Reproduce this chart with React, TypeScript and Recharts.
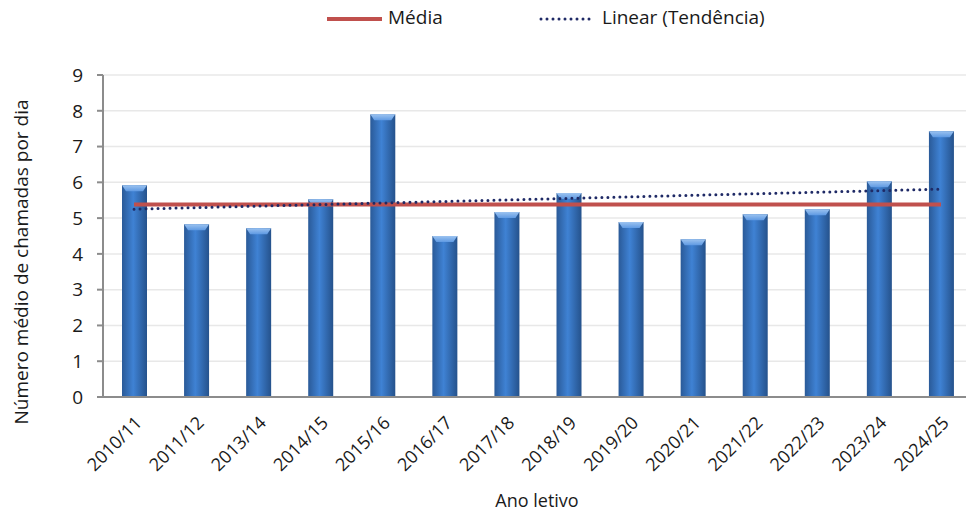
import React from "react";
import {
  ComposedChart,
  Bar,
  Line,
  XAxis,
  YAxis,
  CartesianGrid,
  Legend,
  Label,
} from "recharts";

const anos = [
  "2010/11",
  "2011/12",
  "2013/14",
  "2014/15",
  "2015/16",
  "2016/17",
  "2017/18",
  "2018/19",
  "2019/20",
  "2020/21",
  "2021/22",
  "2022/23",
  "2023/24",
  "2024/25",
];

const chamadas = [5.92, 4.83, 4.72, 5.53, 7.9, 4.5, 5.17, 5.7, 4.89, 4.41, 5.11, 5.25, 6.03, 7.43];

// média (linha horizontal) e tendência linear: só as pontas
const media = [5.38, null, null, null, null, null, null, null, null, null, null, null, null, 5.38];
const tendencia = [5.25, null, null, null, null, null, null, null, null, null, null, null, null, 5.81];

const yTicks = [0, 1, 2, 3, 4, 5, 6, 7, 8, 9];

const data = anos.map((ano, i) => ({
  ano,
  chamadas: chamadas[i],
  media: media[i],
  tendencia: tendencia[i],
}));

const FONT = "'Open Sans', sans-serif";
const AXIS_GREY = "#8c8c8c";

const BarShape = (props: any) => {
  const { x, y, width, height } = props;
  if (!height || height <= 0) return null;
  const bevel = 6;
  return (
    <g>
      <rect x={x} y={y} width={width} height={height} fill="url(#barGrad)" />
      <polygon
        points={`${x},${y} ${x + width},${y} ${x + width - 4},${y + bevel} ${x + 4},${y + bevel}`}
        fill="url(#bevelGrad)"
      />
    </g>
  );
};

const XTick = (props: any) => {
  const { x, y, payload } = props;
  const tx = x + 9;
  const ty = y + 19;
  return (
    <text
      x={tx}
      y={ty}
      transform={`rotate(-45, ${tx}, ${ty})`}
      textAnchor="end"
      fontFamily={FONT}
      fontSize={18}
      fill="#1a1a1a"
    >
      {payload.value}
    </text>
  );
};

const LegendBox = () => (
  <div
    style={{
      position: "relative",
      height: 40,
      fontFamily: FONT,
      fontSize: 19,
      color: "#1a1a1a",
    }}
  >
    <svg width={60} height={10} style={{ position: "absolute", left: 326, top: 14 }}>
      <line x1={1} y1={5} x2={56} y2={5} stroke="#c0504d" strokeWidth={4} />
    </svg>
    <span style={{ position: "absolute", left: 388, top: 4 }}>Média</span>
    <svg width={60} height={10} style={{ position: "absolute", left: 538, top: 14 }}>
      <line
        x1={3}
        y1={5}
        x2={55}
        y2={5}
        stroke="#1f2a66"
        strokeWidth={3}
        strokeDasharray="0 6"
        strokeLinecap="round"
      />
    </svg>
    <span style={{ position: "absolute", left: 602, top: 4 }}>Linear (Tendência)</span>
  </div>
);

export default function App() {
  return (
    <div
      style={{
        position: "absolute",
        left: 0,
        top: 0,
        width: 966,
        height: 512,
        overflow: "hidden",
        background: "#fff",
      }}
    >
      <ComposedChart
        width={972}
        height={512}
        data={data}
        margin={{ top: 35, right: 0, bottom: 0, left: 0 }}
      >
        <defs>
          <linearGradient id="barGrad" x1="0" y1="0" x2="1" y2="0">
            <stop offset="0%" stopColor="#2a5a98" />
            <stop offset="45%" stopColor="#3f82d4" />
            <stop offset="100%" stopColor="#25528c" />
          </linearGradient>
          <linearGradient id="bevelGrad" x1="0" y1="0" x2="0" y2="1">
            <stop offset="0%" stopColor="#9cc3f0" />
            <stop offset="100%" stopColor="#5f9ae3" />
          </linearGradient>
        </defs>
        <CartesianGrid horizontal vertical={false} stroke="#e8e8e8" strokeWidth={1.5} />
        <XAxis
          dataKey="ano"
          interval={0}
          height={115}
          tick={<XTick />}
          tickLine={false}
          axisLine={{ stroke: AXIS_GREY, strokeWidth: 2 }}
        >
          <Label
            content={() => (
              <text x={537} y={507} textAnchor="middle" fontFamily={FONT} fontSize={18} fill="#1a1a1a">
                Ano letivo
              </text>
            )}
          />
        </XAxis>
        <YAxis
          width={103}
          domain={[0, 9]}
          ticks={yTicks}
          interval={0}
          tick={{ fontFamily: FONT, fontSize: 19, fill: "#1a1a1a" }}
          tickLine={{ stroke: AXIS_GREY, strokeWidth: 2 }}
          tickSize={6}
          tickMargin={14}
          axisLine={{ stroke: AXIS_GREY, strokeWidth: 2 }}
        >
          <Label
            content={() => (
              <text
                x={28}
                y={262}
                transform="rotate(-90, 28, 262)"
                textAnchor="middle"
                fontFamily={FONT}
                fontSize={19}
                fill="#1a1a1a"
              >
                Número médio de  chamadas por dia
              </text>
            )}
          />
        </YAxis>
        <Legend verticalAlign="top" wrapperStyle={{ top: 0, left: 0, width: 966 }} content={<LegendBox />} />
        <Bar dataKey="chamadas" barSize={25} shape={<BarShape />} isAnimationActive={false} />
        <Line
          dataKey="media"
          stroke="#c0504d"
          strokeWidth={4}
          dot={false}
          connectNulls
          isAnimationActive={false}
        />
        <Line
          dataKey="tendencia"
          stroke="#1f2a66"
          strokeWidth={3}
          strokeDasharray="0 6"
          strokeLinecap="round"
          dot={false}
          connectNulls
          isAnimationActive={false}
        />
      </ComposedChart>
    </div>
  );
}
